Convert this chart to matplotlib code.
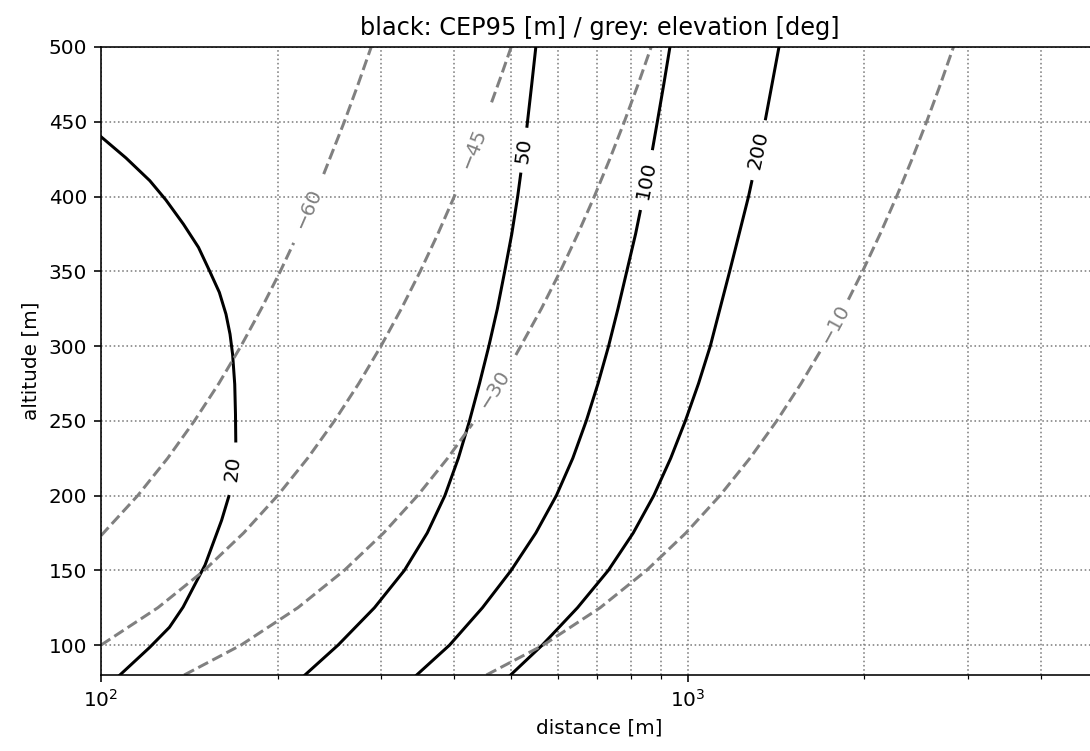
# CEP95 and elevation contour lines over distance / altitude
import numpy as np
import matplotlib
matplotlib.use("Agg")
import matplotlib.pyplot as plt

# CEP95 contour lines (distance [m], altitude [m]); nan = gap for the label
cep_levels = [20, 50, 100, 200]
cep20_dist = [100, 110.3, 121.1, 129.0, 138.2, 146.6, 153.0, 159.1, 163.3, 165.9, 167.6, 169.0, 169.5, 169.7, np.nan,
              165.1, 160.5, 150.4, 138.0, 130.8, 121.0, 107.7]
cep20_alt = [440, 425.8, 410.6, 397.7, 381.5, 366.0, 350.5, 335.9, 321.3, 308.0, 294.4, 274.5, 254.4, 236.5, np.nan,
             199.4, 183.4, 153.5, 125.4, 111.9, 98.4, 80]
cep50_dist = [222.6, 253.5, 292.4, 328.9, 359.7, 385.5, 406.4, 424.6, 441.6, 458.1, 473.7, 487.5, 501.2,
              512.9, 519.0, np.nan, 532.0, 542.0, 550.8]
cep50_alt = [80, 100, 125, 150, 175, 200, 225, 250, 275, 300, 325, 350, 375, 400, 415, np.nan, 447, 475, 500]
cep100_dist = [345.1, 392.6, 446.7, 500.0, 550.8, 597.0, 636.8, 671.4, 703.1, 732.8, 760.3, 787.0, 814.7,
               829.5, np.nan, 871.0, 887.2, 909.9, 932.2]
cep100_alt = [80, 100, 125, 150, 175, 200, 225, 250, 275, 300, 325, 350, 375, 390, np.nan, 432, 450, 475, 500]
cep200_dist = [498.9, 564.9, 648.6, 732.1, 807.2, 875.0, 935.1, 990.4, 1043.0, 1092.2, 1134.5, 1178.5,
               1223.0, 1268.9, 1285.1, np.nan, 1356.6, 1391.3, 1429.9]
cep200_alt = [80, 100, 125, 150, 175, 200, 225, 250, 275, 300, 325, 350, 375, 400, 410, np.nan, 452, 475, 500]

# elevation contour lines [deg]
elev_levels = [-60, -45, -30, -10]
elev60_dist = [100, 115.5, 129.9, 144.3, 158.8, 173.2, 187.6, 202.1, 213.0, np.nan, 239.6, 259.8, 274.2, 288.7]
elev60_alt = [173.2, 200, 225, 250, 275, 300, 325, 350, 369, np.nan, 415, 450, 475, 500]
elev45_dist = [100, 125, 150, 175, 200, 225, 250, 275, 300, 325, 350, 375, 402, np.nan, 463, 480, 500]
elev45_alt = [100, 125, 150, 175, 200, 225, 250, 275, 300, 325, 350, 375, 402, np.nan, 463, 480, 500]
elev30_dist = [138.6, 173.2, 216.5, 259.8, 303.1, 346.4, 389.7, 429.5, np.nan, 509.2, 562.9, 606.2,
               649.5, 692.8, 736.1, 779.4, 822.7, 866.0]
elev30_alt = [80, 100, 125, 150, 175, 200, 225, 248, np.nan, 294, 325, 350, 375, 400, 425, 450, 475, 500]
elev10_dist = [453.7, 567.1, 708.9, 850.7, 992.5, 1134.3, 1276.0, 1417.8, 1559.6, 1692.9, np.nan,
               1877.2, 1985.0, 2126.7, 2268.5, 2410.3, 2552.1, 2693.9, 2835.7]
elev10_alt = [80, 100, 125, 150, 175, 200, 225, 250, 275, 298.5, np.nan,
              331, 350, 375, 400, 425, 450, 475, 500]

cep_lines = [(cep20_dist, cep20_alt), (cep50_dist, cep50_alt), (cep100_dist, cep100_alt), (cep200_dist, cep200_alt)]
elev_lines = [(elev60_dist, elev60_alt), (elev45_dist, elev45_alt), (elev30_dist, elev30_alt), (elev10_dist, elev10_alt)]

fig = plt.figure(figsize=(1090 / 144, 751 / 144), dpi=144)
ax = fig.add_axes([101 / 1090, 1 - 675 / 751, 997 / 1090, 628 / 751])
ax.set_xscale('log')
ax.set_xlim(100, 5000)
ax.set_ylim(80, 500)


def label_gap(xs, ys, text, color):
    # put the contour label in the middle of the gap, turned along the line
    i = int(np.where(np.isnan(np.array(xs, dtype=float)))[0][0])
    p0 = ax.transData.transform((xs[i - 1], ys[i - 1]))
    p1 = ax.transData.transform((xs[i + 1], ys[i + 1]))
    mid = ax.transData.inverted().transform((p0 + p1) / 2)
    ang = np.degrees(np.arctan2(p1[1] - p0[1], p1[0] - p0[0]))
    if ang > 90:
        ang -= 180
    elif ang < -90:
        ang += 180
    ax.text(mid[0], mid[1], text, color=color, fontsize=10, rotation=ang,
            rotation_mode='anchor', ha='center', va='center')


for (xs, ys), lev in zip(cep_lines, cep_levels):
    ax.plot(xs, ys, color='black', lw=1.5)
    label_gap(xs, ys, str(lev), 'black')

for (xs, ys), lev in zip(elev_lines, elev_levels):
    ax.plot(xs, ys, color='grey', lw=1.5, ls='--')
    label_gap(xs, ys, '\u2212' + str(abs(lev)), 'grey')

ax.grid(True, which='both', linestyle=':', color='grey', lw=0.8)
ax.set_xlabel('distance [m]')
ax.set_ylabel('altitude [m]')
ax.set_title('black: CEP95 [m] / grey: elevation [deg]')

fig.savefig('out.png', dpi=144)
